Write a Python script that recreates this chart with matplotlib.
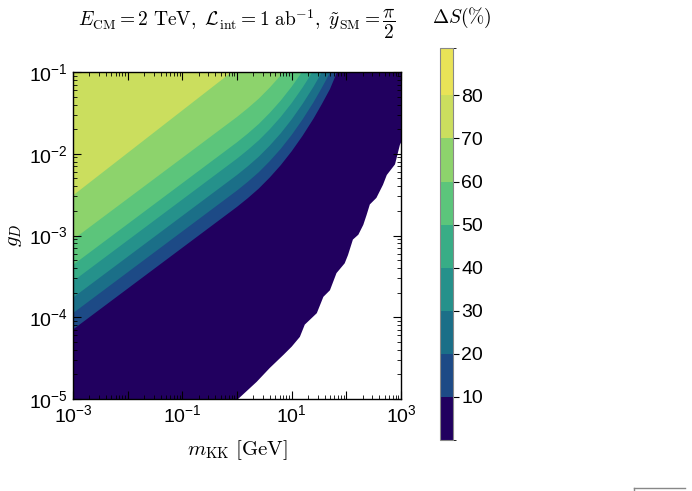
import numpy as np
import matplotlib
matplotlib.use("Agg")
import matplotlib.pyplot as plt
from matplotlib.colors import ListedColormap, BoundaryNorm
from matplotlib.cm import ScalarMappable
from matplotlib.ticker import LogLocator, FuncFormatter, NullFormatter
from matplotlib.lines import Line2D

plt.rcParams['font.family'] = ['Liberation Sans', 'DejaVu Sans']
plt.rcParams['mathtext.fontset'] = 'cm'

# contour boundaries, in log10 units
mkk_log = [-3.2, -3.0, 0.0, 0.2, 0.4, 0.6, 0.8, 1.0, 1.2, 1.4, 1.55, 1.7, 1.8, 1.9]
gD_10 = [-4.25, -4.15, -2.65, -2.542, -2.425, -2.29, -2.14, -1.97, -1.78, -1.57, -1.395, -1.21, -1.05, -0.86]
gD_20 = [-4.05, -3.95, -2.45, -2.342, -2.225, -2.09, -1.94, -1.77, -1.58, -1.37, -1.195, -1.01, -0.85, -0.66]
gD_30 = [-3.86, -3.76, -2.26, -2.152, -2.035, -1.90, -1.75, -1.58, -1.39, -1.18, -1.005, -0.82, -0.66, -0.47]
gD_40 = [-3.66, -3.56, -2.06, -1.952, -1.835, -1.70, -1.55, -1.38, -1.19, -0.98, -0.805, -0.62, -0.46, -0.27]
gD_50 = [-3.46, -3.36, -1.86, -1.752, -1.635, -1.50, -1.35, -1.18, -0.99, -0.78, -0.605, -0.42, -0.26, -0.07]
gD_60 = [-3.15, -3.05, -1.55, -1.442, -1.325, -1.19, -1.04, -0.87, -0.68, -0.47, -0.295, -0.11, 0.05, 0.24]
gD_70 = [-2.61, -2.51, -0.95, -0.84, -0.72, -0.59, -0.44, -0.27, -0.08, 0.13, 0.30, 0.49, 0.65, 0.84]

# edge of the computed region (white below it)
edge_m_log = [-3.2, 0.02, 0.36, 0.60, 0.85, 1.00, 1.15, 1.24, 1.46, 1.58, 1.70, 1.82, 1.97,
              2.03, 2.12, 2.22, 2.31, 2.37, 2.43, 2.55, 2.67, 2.74, 2.89, 2.92, 2.98, 3.2]
edge_g_log = [-5.5, -5.0, -4.79, -4.62, -4.46, -4.36, -4.24, -4.09, -3.95, -3.75, -3.67, -3.46, -3.34,
              -3.24, -3.05, -2.99, -2.87, -2.75, -2.62, -2.54, -2.38, -2.26, -2.13, -2.05, -1.89, -1.6]

levels = [0, 10, 20, 30, 40, 50, 60, 70, 80, 91]
colors = ['#21005f', '#1d4a86', '#1b6f88', '#25918b', '#38ad86',
          '#5cc57b', '#8dd36c', '#cbde5e', '#e9e357']

fig = plt.figure(figsize=(6.92, 4.91), dpi=100)
ax = fig.add_axes([73/692, 1-399/491, 328/692, 327/491])


def fill_above(xs, ys, color):
    px = list(xs) + [xs[-1], 3.3, 3.3, -3.3, -3.3]
    py = list(ys) + [0.5, 0.5, 0.5, 0.5, ys[0]]
    ax.fill(10**np.array(px), 10**np.array(py), color=color, lw=0, antialiased=True)


fill_above(edge_m_log, edge_g_log, colors[0])
for curve, col in zip([gD_10, gD_20, gD_30, gD_40, gD_50, gD_60, gD_70], colors[1:8]):
    fill_above(mkk_log, curve, col)

ax.set_xscale('log')
ax.set_yscale('log')
ax.set_xlim(1e-3, 1e3)
ax.set_ylim(1e-5, 1e-1)

ax.xaxis.set_major_locator(LogLocator(base=10, numticks=20))
ax.xaxis.set_minor_locator(LogLocator(base=10, subs=np.arange(2, 10), numticks=100))
ax.yaxis.set_major_locator(LogLocator(base=10, numticks=20))
ax.yaxis.set_minor_locator(LogLocator(base=10, subs=np.arange(2, 10), numticks=100))


def odd_only(v, pos):
    e = int(round(np.log10(v)))
    return r'$\mathdefault{10^{%d}}$' % e if e % 2 else ''


ax.xaxis.set_major_formatter(FuncFormatter(odd_only))
ax.xaxis.set_minor_formatter(NullFormatter())
ax.yaxis.set_minor_formatter(NullFormatter())
ax.tick_params(which='both', direction='in', top=True, right=True, labelsize=14)
ax.tick_params(which='major', length=6, width=0.8)
ax.tick_params(which='minor', length=3, width=0.6)
for s in ax.spines.values():
    s.set_linewidth(1.0)

ax.set_xlabel(r'$m_{\rm KK}\ [\mathrm{GeV}]$', fontsize=15, labelpad=9)
ax.set_ylabel(r'$g_D$', fontsize=15, labelpad=4)

fig.text(237/692, 1-24/491,
         r'$E_{\rm CM}=2\ \mathrm{TeV},\ \mathcal{L}_{\rm int}=1\ \mathrm{ab}^{-1},\ \tilde{y}_{\rm SM}=\dfrac{\pi}{2}$',
         fontsize=14, ha='center', va='center')

cax = fig.add_axes([440/692, 1-440/491, 13/692, 392/491])
cmap = ListedColormap(colors)
norm = BoundaryNorm(levels, cmap.N)
cb = fig.colorbar(ScalarMappable(norm=norm, cmap=cmap), cax=cax,
                  ticks=[10, 20, 30, 40, 50, 60, 70, 80], spacing='proportional')
cb.ax.tick_params(direction='out', length=4, width=0.8, labelsize=14, pad=2)
cb.outline.set_edgecolor('#888888')
cb.outline.set_linewidth(0.8)
fig.text(462/692, 1-18/491, r'$\Delta S(\%)$', fontsize=14, ha='center', va='center')

fig.add_artist(Line2D([634/692, 685/692], [1-488/491, 1-488/491], transform=fig.transFigure,
                      color='#888888', lw=1))
fig.add_artist(Line2D([634/692, 634/692], [1-488/491, 0], transform=fig.transFigure,
                      color='#888888', lw=1))

fig.savefig('out.png', dpi=100)
